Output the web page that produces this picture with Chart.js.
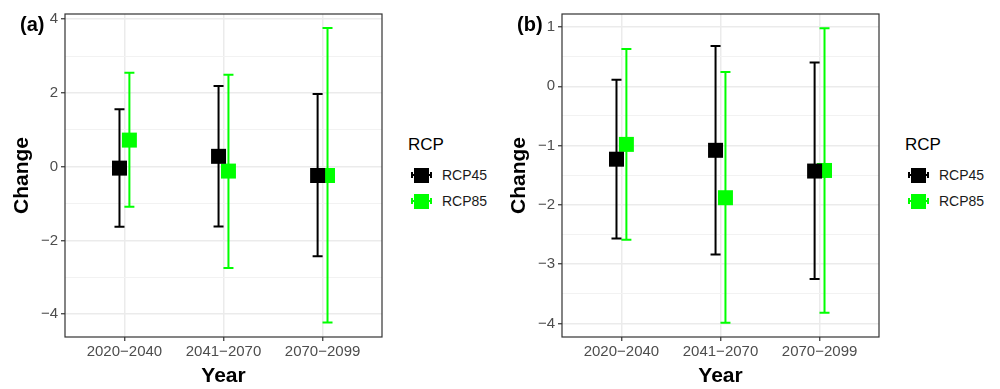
<!DOCTYPE html>
<html>
<head>
<meta charset="utf-8">
<script src="https://cdn.jsdelivr.net/npm/chart.js@4"></script>
<style>
  body { margin: 0; background: #fff; font-family: "Liberation Sans", Arial, sans-serif; }
  .panel { position: absolute; top: 0; width: 500px; height: 389px; }
  .panel canvas { position: absolute; left: 0; top: 0; }
  .tag { position: absolute; left: 20px; top: 10px; font-size: 20px; font-weight: bold; line-height: 28px; }
  .leg-title { position: absolute; left: 408px; top: 134px; font-size: 17px; line-height: 22px; color: #000; }
  .leg-item { position: absolute; left: 411px; width: 90px; height: 20px; }
  .leg-item .ln { position: absolute; left: 0; top: 9px; width: 21px; height: 2px; }
  .leg-item .cap { position: absolute; top: 7px; width: 2px; height: 6px; }
  .leg-item .sq { position: absolute; left: 3px; top: 3px; width: 15px; height: 15px; }
  .leg-item .lab { position: absolute; left: 31px; top: 1px; font-size: 14px; line-height: 18px; color: #1a1a1a; }
</style>
</head>
<body>
<div class="panel" id="panelA" style="left:0px">
  <canvas id="chartA" width="395" height="389"></canvas>
  <div class="tag">(a)</div>
</div>
<div class="panel" id="panelB" style="left:497px">
  <canvas id="chartB" width="395" height="389"></canvas>
  <div class="tag">(b)</div>
</div>
<script>
// categories
const categories = ["2020\u22122040", "2041\u22122070", "2070\u22122099"];
const seriesNames = ["RCP45", "RCP85"];
const seriesColors = ["#000000", "#00ff00"];

// panel (a)
const rcp45MeanA = [-0.04, 0.28, -0.24];
const rcp45LowA = [-1.63, -1.62, -2.43];
const rcp45HighA = [1.56, 2.19, 1.97];
const rcp85MeanA = [0.72, -0.12, -0.24];
const rcp85LowA = [-1.09, -2.75, -4.23];
const rcp85HighA = [2.55, 2.49, 3.76];
const majorTicksA = [-4, -2, 0, 2, 4];
const minorTicksA = [-3, -1, 1, 3];

// panel (b)
const rcp45MeanB = [-1.23, -1.08, -1.43];
const rcp45LowB = [-2.57, -2.84, -3.25];
const rcp45HighB = [0.11, 0.68, 0.40];
const rcp85MeanB = [-0.98, -1.88, -1.42];
const rcp85LowB = [-2.59, -3.99, -3.82];
const rcp85HighB = [0.63, 0.24, 0.98];
const majorTicksB = [-4, -3, -2, -1, 0, 1];
const minorTicksB = [-3.5, -2.5, -1.5, -0.5, 0.5];

const dodge = 0.05;

function fmtNum(v) {
  return v < 0 ? "\u2212" + (-v) : String(v);
}

// error bars, drawn below the points
const errorBars = {
  id: "errorBars",
  beforeDatasetsDraw(chart) {
    const ctx = chart.ctx;
    const xs = chart.scales.x, ys = chart.scales.y;
    // green first, black after
    for (let d = chart.data.datasets.length - 1; d >= 0; d--) {
      const ds = chart.data.datasets[d];
      ctx.save();
      ctx.strokeStyle = ds.backgroundColor;
      ctx.lineWidth = 2;
      for (let i = 0; i < ds.data.length; i++) {
        const px = xs.getPixelForValue(ds.data[i].x);
        const lo = ys.getPixelForValue(ds.low[i]);
        const hi = ys.getPixelForValue(ds.high[i]);
        ctx.beginPath();
        ctx.moveTo(px, lo); ctx.lineTo(px, hi);
        ctx.moveTo(px - 5, lo); ctx.lineTo(px + 5, lo);
        ctx.moveTo(px - 5, hi); ctx.lineTo(px + 5, hi);
        ctx.stroke();
      }
      ctx.restore();
    }
  }
};

// panel border like theme_bw
const panelBorder = {
  id: "panelBorder",
  afterDraw(chart) {
    const a = chart.chartArea;
    const ctx = chart.ctx;
    ctx.save();
    ctx.strokeStyle = "#333333";
    ctx.lineWidth = 1.2;
    ctx.strokeRect(a.left, a.top, a.right - a.left, a.bottom - a.top);
    ctx.restore();
  }
};

function makePanel(canvasId, means, lows, highs, yMin, yMax, majorTicks, minorTicks) {
  const datasets = [];
  for (let s = 0; s < seriesNames.length; s++) {
    const off = s === 0 ? -dodge : dodge;
    datasets.push({
      label: seriesNames[s],
      data: means[s].map((v, i) => ({ x: i + 1 + off, y: v })),
      low: lows[s],
      high: highs[s],
      backgroundColor: seriesColors[s],
      borderColor: seriesColors[s],
      borderWidth: 0,
      pointStyle: "rect",
      pointRadius: 10.6,
      pointHoverRadius: 10.6
    });
  }
  const allTicks = majorTicks.concat(minorTicks).sort((a, b) => a - b);
  return new Chart(document.getElementById(canvasId), {
    type: "scatter",
    data: { datasets: datasets },
    options: {
      responsive: false,
      animation: false,
      layout: { padding: { top: 14, right: 13, left: 0, bottom: 0 } },
      plugins: { legend: { display: false }, tooltip: { enabled: false } },
      scales: {
        x: {
          type: "linear",
          min: 0.4,
          max: 3.6,
          afterBuildTicks: axis => { axis.ticks = [1, 2, 3].map(v => ({ value: v })); },
          afterFit: axis => { axis.height = 52; },
          ticks: {
            callback: v => categories[v - 1],
            color: "#4d4d4d",
            font: { family: "Liberation Sans", size: 15 },
            padding: 2,
            maxRotation: 0,
            autoSkip: false
          },
          grid: { color: "#ebebeb", lineWidth: 1.5, tickColor: "#333333", tickLength: 4, tickWidth: 1.2 },
          border: { display: false },
          title: {
            display: true,
            text: "Year",
            color: "#000",
            font: { family: "Liberation Sans", size: 21, weight: "bold", lineHeight: 1.2 },
            padding: { top: 0, bottom: 0 }
          }
        },
        y: {
          min: yMin,
          max: yMax,
          afterBuildTicks: axis => { axis.ticks = allTicks.map(v => ({ value: v })); },
          afterFit: axis => { axis.width = 65; },
          ticks: {
            callback: v => majorTicks.includes(v) ? fmtNum(v) : "",
            color: "#4d4d4d",
            font: { family: "Liberation Sans", size: 15 },
            padding: 3,
            autoSkip: false
          },
          grid: {
            color: c => majorTicks.includes(c.tick.value) ? "#ebebeb" : "#f2f2f2",
            lineWidth: c => majorTicks.includes(c.tick.value) ? 1.5 : 1,
            tickColor: c => majorTicks.includes(c.tick.value) ? "#333333" : "rgba(0,0,0,0)",
            tickLength: 4,
            tickWidth: 1.2
          },
          border: { display: false },
          title: {
            display: true,
            text: "Change",
            color: "#000",
            font: { family: "Liberation Sans", size: 21, weight: "bold", lineHeight: 1.2 },
            padding: { top: 10, bottom: 0 }
          }
        }
      }
    },
    plugins: [errorBars, panelBorder]
  });
}

function addLegend(panelId) {
  const panel = document.getElementById(panelId);
  const title = document.createElement("div");
  title.className = "leg-title";
  title.textContent = "RCP";
  panel.appendChild(title);
  const tops = [165, 191];
  for (let s = 0; s < seriesNames.length; s++) {
    const item = document.createElement("div");
    item.className = "leg-item";
    item.style.top = tops[s] + "px";
    const c = seriesColors[s];
    item.innerHTML =
      '<div class="ln" style="background:' + c + '"></div>' +
      '<div class="cap" style="left:0px;background:' + c + '"></div>' +
      '<div class="cap" style="left:19px;background:' + c + '"></div>' +
      '<div class="sq" style="background:' + c + '"></div>' +
      '<div class="lab">' + seriesNames[s] + '</div>';
    panel.appendChild(item);
  }
}

makePanel("chartA", [rcp45MeanA, rcp85MeanA], [rcp45LowA, rcp85LowA], [rcp45HighA, rcp85HighA], -4.62, 4.14, majorTicksA, minorTicksA);
makePanel("chartB", [rcp45MeanB, rcp85MeanB], [rcp45LowB, rcp85LowB], [rcp45HighB, rcp85HighB], -4.23, 1.22, majorTicksB, minorTicksB);
addLegend("panelA");
addLegend("panelB");
</script>
</body>
</html>
